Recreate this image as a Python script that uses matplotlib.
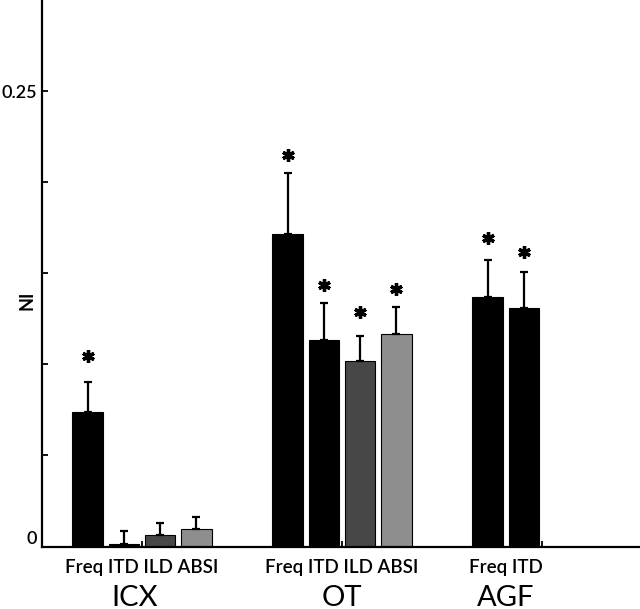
import numpy as np
import matplotlib
matplotlib.use('Agg')
import matplotlib.pyplot as plt
from matplotlib.transforms import offset_copy

plt.rcParams['font.family'] = ['Lato', 'DejaVu Sans']

# ---- data ----
groups = ['ICX', 'OT', 'AGF']
condition_labels = ['Freq ITD ILD ABSI', 'Freq ITD ILD ABSI', 'Freq ITD']
conditions = ['Freq', 'ITD', 'ILD', 'ABSI']
bar_colors = ['#000000', '#000000', '#474747', '#8e8e8e']

ni_icx = [0.0737, 0.0011, 0.0064, 0.0097]
ni_ot = [0.1713, 0.1132, 0.1017, 0.1165]
ni_agf = [0.1369, 0.1310]

err_icx = [0.0167, 0.0072, 0.0063, 0.0065]
err_ot = [0.0336, 0.0202, 0.0141, 0.0147]
err_agf = [0.0206, 0.0196]

star_icx = [0.1044, None, None, None]
star_ot = [0.2148, 0.1438, 0.1290, 0.1416]
star_agf = [0.1695, 0.1618]

yticks = [0, 0.05, 0.10, 0.15, 0.20, 0.25]
ytick_labels = ['0', '', '', '', '', '0.25']

values = [ni_icx, ni_ot, ni_agf]
errors = [err_icx, err_ot, err_agf]
stars = [star_icx, star_ot, star_agf]

# ---- figure ----
fig = plt.figure(figsize=(6.4, 6.09), dpi=100)
ax = fig.add_axes([42 / 640, 62.5 / 609, 600 / 640, 546.5 / 609])

spacing = 0.1815
width = 0.1535
offsets = [-1.5 * spacing, -0.5 * spacing, 0.5 * spacing, 1.5 * spacing]

xtrans = ax.get_xaxis_transform()
cond_trans = offset_copy(xtrans, fig=fig, x=0, y=-26, units='dots')
grp_trans = offset_copy(xtrans, fig=fig, x=0, y=-59, units='dots')

for gi, (vals, errs, sts) in enumerate(zip(values, errors, stars)):
    gpos = gi + 1
    n = len(vals)
    xs = [gpos + offsets[j] for j in range(n)]
    ax.bar(xs, vals, width=width, color=bar_colors[:n], edgecolor='black',
           linewidth=0.8, zorder=2)
    ax.errorbar(xs, vals, yerr=[np.zeros(n), errs], fmt='none', ecolor='black',
                elinewidth=1.6, capsize=3.2, capthick=1.6, zorder=3)
    for x, s in zip(xs, sts):
        if s is not None:
            ax.plot([x], [s], linestyle='none', marker=(6, 2, 0), markersize=9,
                    markeredgewidth=2.4, color='black', zorder=4)
    xc = float(np.mean(xs))
    ax.text(xc, 0, condition_labels[gi], transform=cond_trans, ha='center',
            va='baseline', fontsize=13.5, fontweight='semibold')
    shift = -0.035 if gi == 0 else 0.0
    ax.text(xc + shift, 0, groups[gi], transform=grp_trans, ha='center',
            va='baseline', fontsize=21)

ax.set_xlim(0.5, 3.5)
ax.set_ylim(0, 0.3)
ax.set_xticks([1, 2, 3])
ax.set_xticklabels([])
ax.set_yticks(yticks)
ax.set_yticklabels(ytick_labels, fontsize=13, fontweight='semibold')
ax.get_yticklabels()[0].set_verticalalignment('bottom')

for sp in ['top', 'right']:
    ax.spines[sp].set_visible(False)
for sp in ['left', 'bottom']:
    ax.spines[sp].set_linewidth(1.6)

ax.tick_params(axis='both', direction='in', length=4, width=1.3, pad=3.5)

ax.set_ylabel('NI', fontsize=13, fontweight='bold')
ax.yaxis.set_label_coords(-0.011, 0.45)

fig.savefig('out.png', dpi=100)
